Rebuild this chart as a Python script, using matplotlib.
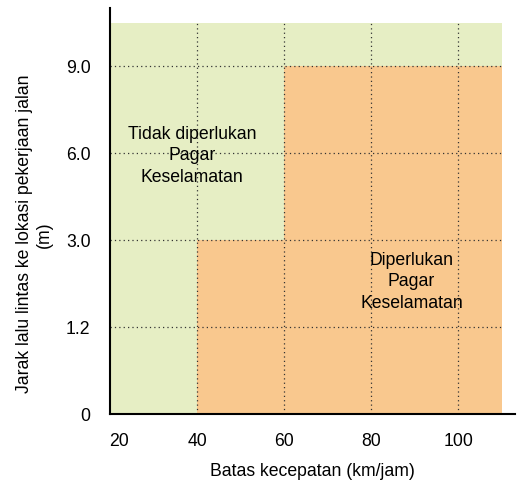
import matplotlib
matplotlib.use("Agg")
import matplotlib.pyplot as plt
from matplotlib.transforms import ScaledTranslation

plt.rcParams['font.family'] = ['Liberation Sans', 'DejaVu Sans']
plt.rcParams['font.size'] = 12.7

# speed limits (x categories) and clear-zone distances (y categories)
speeds = ['20', '40', '60', '80', '100']
distances = ['0', '1.2', '3.0', '6.0', '9.0']
# required zone: from speed index, up to distance index
step_speed_idx = [1, 2]
step_dist_idx = [2, 4]
data_end = 4.5

green = '#e6eec4'
orange = '#f9c88e'

fig = plt.figure(figsize=(5.22, 4.82), dpi=100)
ax = fig.add_axes([0.2107, 0.141, 0.776, 0.842])

# not-required background
ax.fill_between([0, data_end], 0, data_end, color=green, lw=0, zorder=0)
# required (step shape)
ax.fill_between([step_speed_idx[0], step_speed_idx[1]], 0, step_dist_idx[0],
                color=orange, lw=0, zorder=1)
ax.fill_between([step_speed_idx[1], data_end], 0, step_dist_idx[1],
                color=orange, lw=0, zorder=1)

ax.set_xlim(0, 4.65)
ax.set_ylim(0, 4.67)
ax.set_xticks(range(len(speeds)))
ax.set_xticklabels(speeds)
ax.set_yticks(range(len(distances)))
ax.set_yticklabels(distances)
ax.tick_params(axis='x', length=0, pad=14)
ax.tick_params(axis='y', length=0, pad=14)
# first x label sits a bit to the right in the original
lbl = ax.get_xticklabels()[0]
lbl.set_transform(lbl.get_transform() + ScaledTranslation(9 / 100, 0, fig.dpi_scale_trans))

for i in range(1, len(speeds)):
    ax.axvline(i, 0, data_end / 4.67, color='#333333', ls=(0, (1, 2.5)), lw=0.9, zorder=2)
for j in range(1, len(distances)):
    ax.axhline(j, 0, data_end / 4.65, color='#333333', ls=(0, (1, 2.5)), lw=0.9, zorder=2)

ax.spines['top'].set_visible(False)
ax.spines['right'].set_visible(False)
ax.spines['left'].set_linewidth(1.5)
ax.spines['bottom'].set_linewidth(1.5)

ax.set_xlabel('Batas kecepatan (km/jam)', labelpad=9)
ax.set_ylabel('Jarak lalu lintas ke lokasi pekerjaan jalan\n(m)')
ax.yaxis.set_label_coords(-0.142, 0.443)

ax.text(0.94, 2.97, 'Tidak diperlukan\nPagar\nKeselamatan', ha='center', va='center',
        linespacing=1.35, zorder=3)
ax.text(3.46, 1.52, 'Diperlukan\nPagar\nKeselamatan', ha='center', va='center',
        linespacing=1.35, zorder=3)

fig.savefig('out.png', dpi=100)
